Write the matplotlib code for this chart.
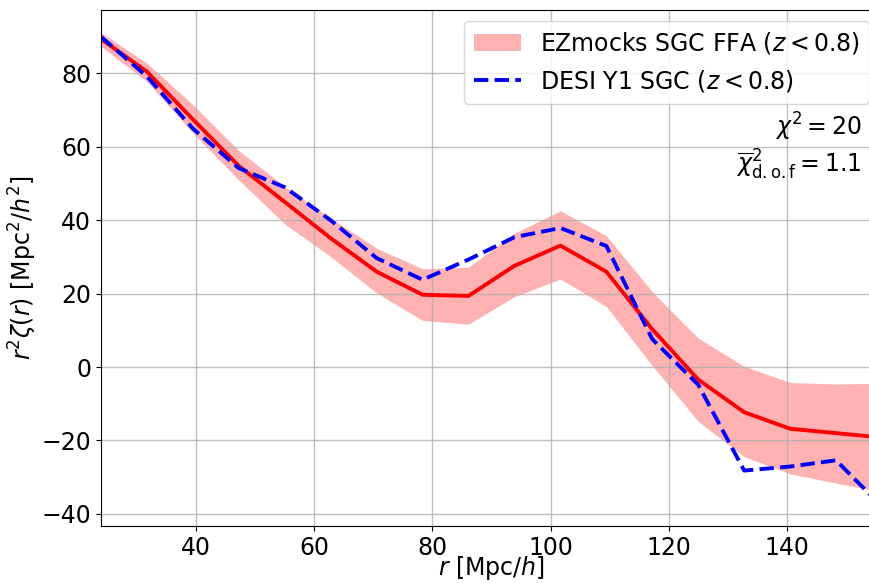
import numpy as np
import matplotlib
matplotlib.use("Agg")
import matplotlib.pyplot as plt

# separation bins: 18 bins between 20 and 160 Mpc/h
r_edges = np.linspace(20, 160, 19)
r = 0.5 * (r_edges[1:] + r_edges[:-1])

# EZmocks mean and 1-sigma band
mock_mean = [89.4, 80.5, 67.5, 54.8, 45.0, 35.1, 26.0, 19.7, 19.4, 27.6,
             33.1, 26.0, 10.3, -3.4, -12.3, -16.8, -18.0, -19.2]
mock_hi = [91.2, 82.8, 71.5, 59.0, 49.2, 40.6, 32.4, 26.8, 27.2, 36.5,
           42.6, 35.8, 20.5, 7.9, 0.2, -4.2, -4.6, -4.4]
mock_lo = [87.4, 77.8, 63.8, 51.0, 39.0, 30.1, 20.2, 12.7, 11.7, 19.2,
           24.0, 16.5, 0.4, -14.8, -24.4, -29.1, -31.6, -34.0]

# DESI Y1 SGC data
desi = [90.0, 79.2, 65.0, 54.2, 49.0, 40.0, 29.7, 23.8, 29.3, 35.4,
        37.9, 33.0, 7.6, -4.8, -28.2, -27.1, -25.4, -38.0]

plt.rcParams['font.size'] = 17

fig = plt.figure(figsize=(8.7, 5.83), dpi=100)
ax = fig.add_axes([101/870, 57/583, 781/870, 516/583])

ax.fill_between(r, mock_lo, mock_hi, color='red', alpha=0.3, lw=0,
                label='EZmocks SGC FFA ($z<0.8$)')
ax.plot(r, mock_mean, color='red', lw=2.8)
ax.plot(r, desi, color='blue', ls='--', lw=2.8,
        label='DESI Y1 SGC ($z<0.8$)')

ax.set_xlim(r[0], r[-1])
ax.set_ylim(-43.3, 97.3)
ax.set_xticks([40, 60, 80, 100, 120, 140])
ax.set_yticks([-40, -20, 0, 20, 40, 60, 80])
ax.grid(True, color='#b0b0b0', lw=1, alpha=0.8)
ax.set_xlabel('$r$ [Mpc/$h$]', labelpad=-4)
ax.set_ylabel('$r^2\\zeta(r)$ [Mpc$^2/h^2$]', labelpad=2)

ax.legend(loc='upper right', bbox_to_anchor=(869/870, 1 - 21/583),
          bbox_transform=fig.transFigure, borderaxespad=0,
          fontsize=17, handlelength=2)
fig.text(0.99, 0.81, '$\\chi^2 = 20$\n$\\overline{\\chi}^2_{\\rm d.o.f} = 1.1$',
         ha='right', va='top', multialignment='right', fontsize=17)

fig.savefig('out.png', dpi=100)
